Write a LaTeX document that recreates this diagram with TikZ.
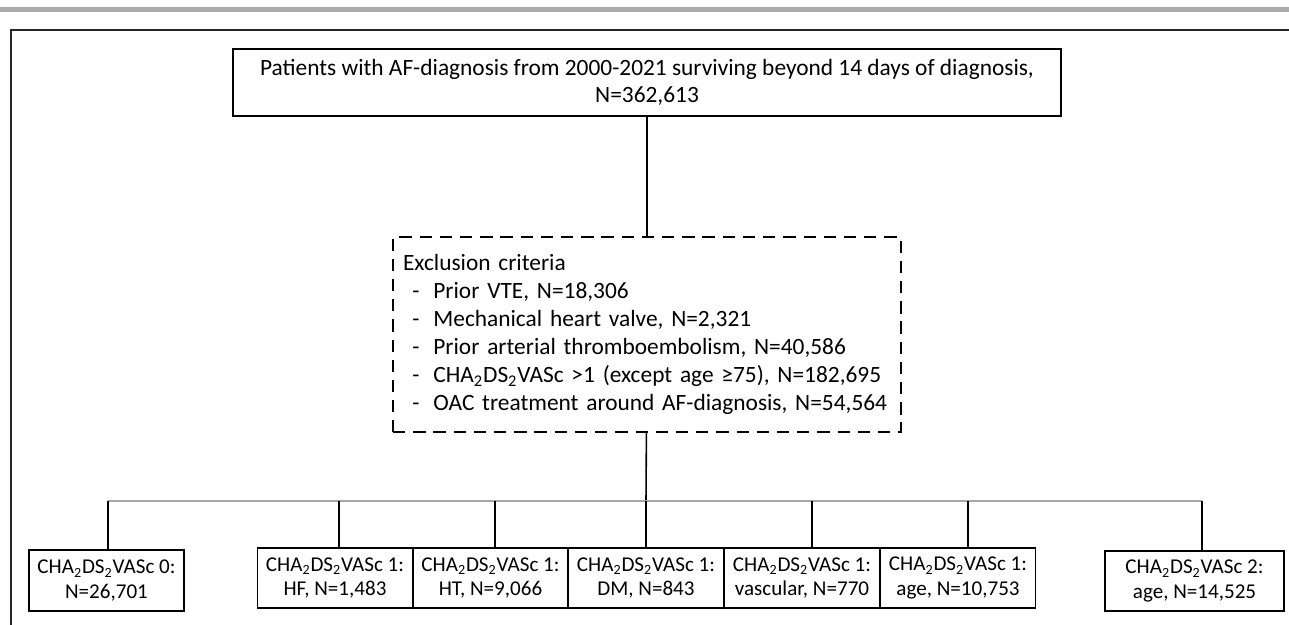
\documentclass[tikz,border=0pt]{standalone}
\usepackage{fontspec}
\setmainfont{Carlito}
\newcommand{\chads}{CHA\textsubscript{2}DS\textsubscript{2}VASc}
\newcommand{\crit}[1]{\makebox[1.3em][l]{\hspace{0.4em}-}#1}
\begin{document}
\begin{tikzpicture}[x=0.02cm, y=-0.02cm,
		every node/.style={font=\fontsize{13.3}{15.3}\selectfont},
		box/.style={draw, line width=1.1pt, inner sep=0pt, align=center},
		leaf/.style={box, minimum width=3.1cm, minimum height=1.21cm, font=\fontsize{12}{13.8}\selectfont},
		link/.style={line width=0.9pt},
		branch/.style={line width=0.6pt, black!35}]
			\useasboundingbox (0,0) rectangle (1289,625);
			\fill[black!33] (0,7) rectangle (1289,12);
			\draw[line width=1.4pt, black!85] (11,625) -- (11,30) -- (1289,30);

			\node[box, minimum width=16.56cm, minimum height=1.34cm] (pop) at (647,82.5) {Patients with AF-diagnosis from 2000-2021 surviving beyond 14 days of diagnosis,\\N=362,613};
			\node[box, dashed, dash pattern=on 7pt off 4.5pt, minimum width=10.16cm, minimum height=3.9cm, align=left, text width=9.76cm, font=\fontsize{13.3}{16}\selectfont] (excl) at (647,334.5) {Exclusion criteria\\
				\crit{Prior VTE, N=18,306}\\
				\crit{Mechanical heart valve, N=2,321}\\
				\crit{Prior arterial thromboembolism, N=40,586}\\
				\crit{\chads{} >1 (except age ≥75), N=182,695}\\
				\crit{OAC treatment around AF-diagnosis, N=54,564}};

			\node[leaf] (s0) at (106.5,580.5) {\chads{} 0:\\N=26,701};
			\node[leaf] (hf) at (335,578) {\chads{} 1:\\HF, N=1,483};
			\node[leaf] (ht) at (490.5,578) {\chads{} 1:\\HT, N=9,066};
			\node[leaf] (dm) at (646,578) {\chads{} 1:\\DM, N=843};
			\node[leaf] (vasc) at (802,578) {\chads{} 1:\\vascular, N=770};
			\node[leaf] (age) at (958,578) {\chads{} 1:\\age, N=10,753};
			\node[leaf, minimum width=3.58cm] (s2) at (1194.5,581) {\chads{} 2:\\age, N=14,525};

			\coordinate (split) at (646,501);
			\draw[link] (pop) -- (excl);
			\draw[link] (excl) -- (split);
			\foreach \n/\x in {s0/108, hf/339, ht/495, dm/646, vasc/812, age/968, s2/1202}
				\coordinate (t-\n) at (\x,501);
			\draw[branch] (t-s0) -- (t-s2);
			\foreach \n in {s0, hf, ht, dm, vasc, age, s2}
				\draw[link] (t-\n) -- (t-\n |- \n.north);
		\end{tikzpicture}
\end{document}
